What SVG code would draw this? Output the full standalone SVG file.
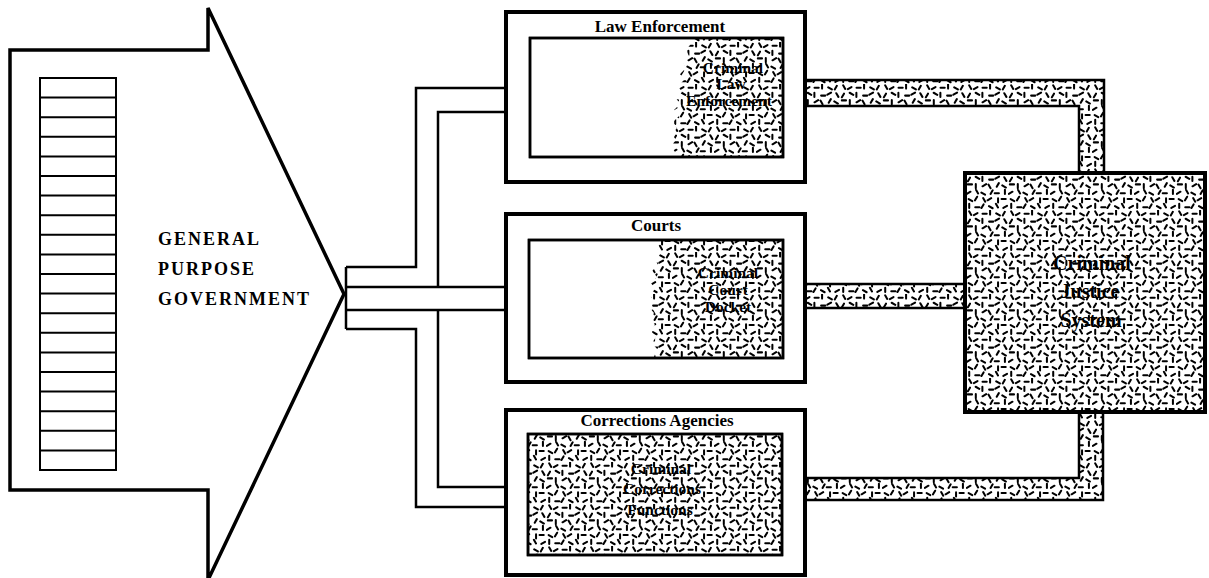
<svg xmlns="http://www.w3.org/2000/svg" width="1209" height="578" viewBox="0 0 1209 578">
<defs>
<pattern id="st" patternUnits="userSpaceOnUse" width="30" height="30" patternTransform="scale(1.4)">
<path fill="none" stroke="#000" stroke-width="1.45" stroke-linecap="round" d="M2.25 0.9l1.5 2.6M8.2 2.15l-2.6 1.5M11.8 2.7l3 0M17.2 0.3l0 3M21.6 2.35l2.6 1.5M27.75 1.3l-1.5 2.6M2.85 6.9l-1.5 2.6M6.9 6.25l2.6 1.5M11.7 6.3l0 3M16.5 8.3l3 0M23.6 6.15l-2.6 1.5M27.35 6.6l1.5 2.6M1.3 11.7l3 0M7 11.5l0 3M14.4 11.55l-2.6 1.5M16.05 11.8l1.5 2.6M23.45 10.8l-1.5 2.6M25.9 12.45l2.6 1.5M3.2 16.95l-2.6 1.5M7.15 15.6l1.5 2.6M11 17.55l2.6 1.5M19.05 15.9l-1.5 2.6M20.5 18l3 0M27.8 15.5l0 3M1.9 22.15l2.6 1.5M7.95 20.5l-1.5 2.6M12.25 21.5l1.5 2.6M18 21.55l-2.6 1.5M22.9 21.7l0 3M25.4 22.1l3 0M2.3 25.5l0 3M6.6 28.1l3 0M12.55 26l-1.5 2.6M16.4 27.25l2.6 1.5M21.35 25.6l1.5 2.6M29.3 27.05l-2.6 1.5"/>
</pattern>
</defs>
<style>
.ln{fill:none;stroke:#000;stroke-width:2.5;stroke-linejoin:miter}
.ob{fill:#fff;stroke:#000;stroke-width:4}
.ib{fill:#fff;stroke:#000;stroke-width:2.5}
.sf{fill:url(#st);stroke:none}
.tt{font-family:"Liberation Serif","Times New Roman",serif;font-weight:bold;font-size:17px;text-anchor:middle;fill:#000}
.it{font-family:"Liberation Serif","Times New Roman",serif;font-weight:bold;font-size:15.5px;text-anchor:middle;fill:#000}
.gp{font-family:"Liberation Serif","Times New Roman",serif;font-weight:bold;font-size:18px;letter-spacing:2px;fill:#000}
</style>
<rect width="1209" height="578" fill="#fff"/>

<g id="general-purpose-government">
<polygon points="10,50 208,50 208,8 344,294 208,580 208,490 10,490" fill="#fff" stroke="#000" stroke-width="3.5" stroke-linejoin="miter"/>
<rect x="40" y="78" width="76" height="392" fill="#fff" stroke="#000" stroke-width="2"/>
<path fill="none" stroke="#000" stroke-width="2" d="M40 97.6H116M40 117.2H116M40 136.8H116M40 156.4H116M40 176H116M40 195.6H116M40 215.2H116M40 234.8H116M40 254.4H116M40 274H116M40 293.6H116M40 313.2H116M40 332.8H116M40 352.4H116M40 372H116M40 391.6H116M40 411.2H116M40 430.8H116M40 450.4H116"/>
<text class="gp" x="158" y="245">GENERAL</text>
<text class="gp" x="158" y="275">PURPOSE</text>
<text class="gp" x="158" y="305">GOVERNMENT</text>
</g>

<g id="connectors">
<polyline class="ln" points="346,267 346,329"/>
<polyline class="ln" points="346,267 416,267 416,88 506,88"/>
<polyline class="ln" points="506,112 438,112 438,287"/>
<polyline class="ln" points="346,287 506,287"/>
<polyline class="ln" points="346,310 506,310"/>
<polyline class="ln" points="438,310 438,487 506,487"/>
<polyline class="ln" points="346,329 416,329 416,507 506,507"/>

<polygon class="sf" points="805,80 1104,80 1104,173 1079,173 1079,106 805,106"/>
<polyline class="ln" stroke-width="3" points="805,80 1104,80 1104,173"/>
<polyline class="ln" stroke-width="3" points="805,106 1079,106 1079,173"/>

<rect class="sf" x="805" y="284" width="160" height="24"/>
<polyline class="ln" stroke-width="3" points="805,284 965,284"/>
<polyline class="ln" stroke-width="3" points="805,308 965,308"/>

<polygon class="sf" points="1079,412 1103,412 1103,500 805,500 805,478 1079,478"/>
<polyline class="ln" stroke-width="3" points="1079,412 1079,478 805,478"/>
<polyline class="ln" stroke-width="3" points="1103,412 1103,500 805,500"/>
</g>

<g id="law-enforcement">
<rect class="ob" x="506" y="12" width="299" height="170"/>
<text class="tt" x="660" y="32">Law Enforcement</text>
<rect class="ib" x="530" y="38" width="253" height="119"/>
<path class="sf" d="M694 39L690 45L686 50L689 56L683 62L686 68L680 74L684 80L678 86L682 92L676 98L680 104L674 110L679 116L673 122L677 128L672 134L676 140L671 146L675 152L673 156H782V39Z"/>
<rect x="530" y="38" width="253" height="119" fill="none" stroke="#000" stroke-width="2.5"/>
<text class="it" x="733" y="73">Criminal</text>
<text class="it" x="731" y="89">Law</text>
<text class="it" x="729" y="106">Enforcement</text>
</g>

<g id="courts">
<rect class="ob" x="506" y="214" width="299" height="168"/>
<text class="tt" x="656" y="231">Courts</text>
<rect class="ib" x="529" y="240" width="254" height="118"/>
<path class="sf" d="M660 241L656 247L661 253L655 259L658 265L652 271L657 277L651 283L655 289L650 295L654 301L649 307L654 313L650 319L655 325L651 331L656 337L652 343L657 349L654 357H782V241Z"/>
<rect x="529" y="240" width="254" height="118" fill="none" stroke="#000" stroke-width="2.5"/>
<text class="it" x="728" y="278">Criminal</text>
<text class="it" x="728" y="295">Court</text>
<text class="it" x="728" y="312">Docket</text>
</g>

<g id="corrections-agencies">
<rect class="ob" x="506" y="410" width="299" height="165"/>
<text class="tt" x="657" y="426">Corrections Agencies</text>
<rect class="ib" x="528" y="434" width="254" height="121"/>
<rect class="sf" x="528" y="434" width="254" height="121"/>
<rect x="528" y="434" width="254" height="121" fill="none" stroke="#000" stroke-width="2.5"/>
<text class="it" x="661" y="474">Criminal</text>
<text class="it" x="662" y="494">Corrections</text>
<text class="it" x="660" y="515">Functions</text>
</g>

<g id="criminal-justice-system">
<rect x="965" y="173" width="240" height="239" fill="#fff" stroke="#000" stroke-width="4"/>
<rect class="sf" x="967" y="175" width="236" height="235"/>
<rect x="965" y="173" width="240" height="239" fill="none" stroke="#000" stroke-width="4"/>
<text class="it" style="font-size:20px" x="1092" y="270">Criminal</text>
<text class="it" style="font-size:20px" x="1090" y="298">Justice</text>
<text class="it" style="font-size:20px" x="1091" y="327">System</text>
</g>
</svg>
